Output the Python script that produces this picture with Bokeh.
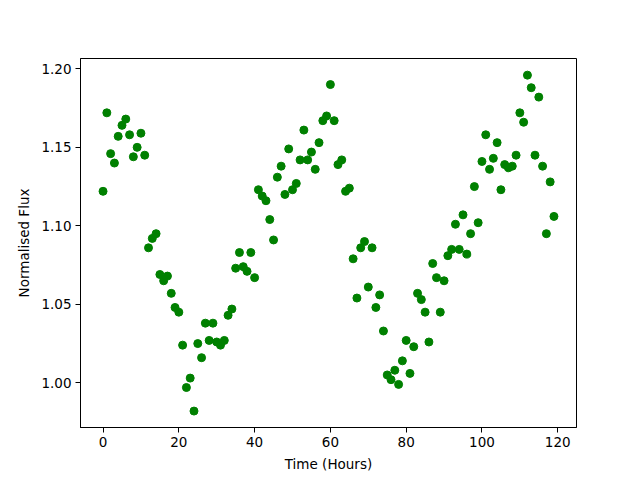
from bokeh.plotting import figure
from bokeh.models import Range1d, FixedTicker
from bokeh.embed import file_html
from bokeh.resources import INLINE

hours = list(range(120))
flux = [
    1.122, 1.172, 1.146, 1.140, 1.157, 1.164, 1.168, 1.158, 1.144, 1.150,
    1.159, 1.145, 1.086, 1.092, 1.095, 1.069, 1.065, 1.068, 1.057, 1.048,
    1.045, 1.024, 0.997, 1.003, 0.982, 1.025, 1.016, 1.038, 1.027, 1.038,
    1.026, 1.024, 1.027, 1.043, 1.047, 1.073, 1.083, 1.074, 1.071, 1.083,
    1.067, 1.123, 1.119, 1.116, 1.104, 1.091, 1.131, 1.138, 1.120, 1.149,
    1.123, 1.127, 1.142, 1.161, 1.142, 1.147, 1.136, 1.153, 1.167, 1.170,
    1.190, 1.167, 1.139, 1.142, 1.122, 1.124, 1.079, 1.054, 1.086, 1.090,
    1.061, 1.086, 1.048, 1.056, 1.033, 1.005, 1.002, 1.008, 0.999, 1.014,
    1.027, 1.006, 1.023, 1.057, 1.053, 1.045, 1.026, 1.076, 1.067, 1.045,
    1.065, 1.081, 1.085, 1.101, 1.085, 1.107, 1.082, 1.095, 1.125, 1.102,
    1.141, 1.158, 1.136, 1.143, 1.153, 1.123, 1.139, 1.137, 1.138, 1.145,
    1.172, 1.166, 1.196, 1.188, 1.145, 1.182, 1.138, 1.095, 1.128, 1.106,
]
x_ticks = [0, 20, 40, 60, 80, 100, 120]
y_ticks = [1.00, 1.05, 1.10, 1.15, 1.20]
y_tick_labels = ["1.00", "1.05", "1.10", "1.15", "1.20"]

FONT = "DejaVu Sans"

p = figure(
    frame_width=496, frame_height=369,
    min_border_left=80, min_border_right=48,
    min_border_top=58, min_border_bottom=45,
    x_range=Range1d(-5.95, 124.95), y_range=Range1d(0.97153, 1.2066),
    output_backend="svg", toolbar_location=None,
    background_fill_color="white", border_fill_color="white",
)
p.grid.visible = False
p.outline_line_color = "black"
p.outline_line_width = 1

p.scatter(hours, flux, size=8, color="green", line_color="green")

p.xaxis.ticker = FixedTicker(ticks=x_ticks)
p.yaxis.ticker = FixedTicker(ticks=y_ticks)
p.yaxis.major_label_overrides = {t: l for t, l in zip(y_ticks, y_tick_labels)}
p.xaxis.axis_label = "Time (Hours)"
p.yaxis.axis_label = "Normalised Flux"

for ax in (p.xaxis[0], p.yaxis[0]):
    ax.major_tick_out = 5
    ax.major_tick_in = 0
    ax.minor_tick_line_color = None
    ax.axis_line_color = "black"
    ax.major_tick_line_color = "black"
    ax.major_label_text_font = FONT
    ax.major_label_text_font_size = "13.5px"
    ax.major_label_text_color = "black"
    ax.axis_label_text_font = FONT
    ax.axis_label_text_font_size = "13.5px"
    ax.axis_label_text_font_style = "normal"
    ax.axis_label_text_color = "black"
    ax.major_label_standoff = 4
    ax.axis_label_standoff = 6

open("out.html", "w").write(file_html(p, INLINE))
